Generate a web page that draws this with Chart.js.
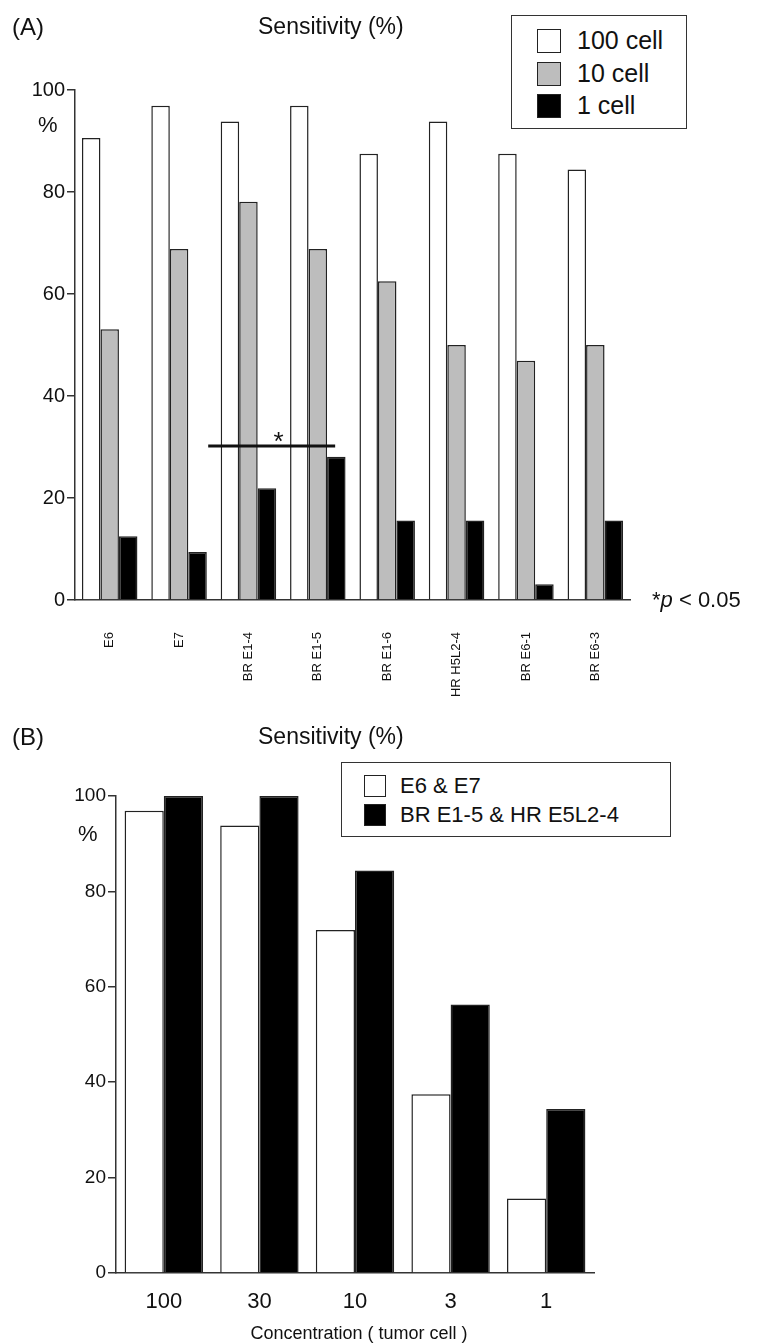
<!DOCTYPE html>
<html><head><meta charset="utf-8">
<script src="https://cdn.jsdelivr.net/npm/chart.js@4/dist/chart.umd.min.js"></script>
<style>
body{margin:0;background:#fff;font-family:"Liberation Sans",Arial,sans-serif;color:#111;}
#wrap{position:relative;width:759px;height:1343px;overflow:hidden;}
canvas{position:absolute;left:0;}
.t{position:absolute;white-space:nowrap;line-height:1;}
.leg{position:absolute;border:1.5px solid #333;background:#fff;box-sizing:border-box;}
.leg div{position:absolute;display:flex;align-items:center;line-height:1;}
.sw{display:inline-block;border:1.5px solid #222;box-sizing:border-box;}
</style></head>
<body><div id="wrap">
<canvas id="ca" width="759" height="700" style="top:0"></canvas>
<canvas id="cb" width="759" height="663" style="top:680px"></canvas>
<div class="t" style="left:12px;top:15px;font-size:24px">(A)</div>
<div class="t" style="left:258px;top:15px;font-size:23px">Sensitivity (%)</div>
<div class="t" style="left:38px;top:114px;font-size:22px">%</div>
<div class="t" style="left:652px;top:589px;font-size:22px">*<i>p</i> &lt; 0.05</div>
<div class="leg" style="left:511px;top:15px;width:176px;height:114px;font-size:25px;">
  <div style="left:25px;top:12px"><span class="sw" style="width:24px;height:24px;background:#fff;margin-right:16px"></span>100 cell</div>
  <div style="left:25px;top:45px"><span class="sw" style="width:24px;height:24px;background:#bdbdbd;margin-right:16px"></span>10 cell</div>
  <div style="left:25px;top:77px"><span class="sw" style="width:24px;height:24px;background:#000;margin-right:16px"></span>1 cell</div>
</div>
<div class="t" style="left:12px;top:725px;font-size:24px">(B)</div>
<div class="t" style="left:258px;top:725px;font-size:23px">Sensitivity (%)</div>
<div class="t" style="left:78px;top:823px;font-size:22px">%</div>
<div class="leg" style="left:341px;top:762px;width:330px;height:75px;font-size:22px;">
  <div style="left:22px;top:12px"><span class="sw" style="width:22px;height:22px;background:#fff;margin-right:14px"></span>E6 &amp; E7</div>
  <div style="left:22px;top:41px"><span class="sw" style="width:22px;height:22px;background:#000;margin-right:14px"></span>BR E1-5 &amp; HR E5L2-4</div>
</div>
<div class="t" style="left:0;width:718px;text-align:center;top:1324px;font-size:18px">Concentration ( tumor cell )</div>
</div>
<script>
// Panel A
const probes = ["E6", "E7", "BR E1-4", "BR E1-5", "BR E1-6", "HR H5L2-4", "BR E6-1", "BR E6-3"];
const cell100 = [90.6, 96.9, 93.8, 96.9, 87.5, 93.8, 87.5, 84.4];
const cell10  = [53.1, 68.8, 78.1, 68.8, 62.5, 50.0, 46.9, 50.0];
const cell1   = [12.5, 9.4, 21.9, 28.1, 15.6, 15.6, 3.1, 15.6];
const yTicks  = [0, 20, 40, 60, 80, 100];

// Panel B
const concs = ["100", "30", "10", "3", "1"];
const e6e7  = [96.9, 93.8, 71.9, 37.5, 15.6];
const brhr  = [100, 100, 84.4, 56.3, 34.4];

// significance bar between BR E1-4 and BR E1-5
const sigBar = { from: 2, to: 3, y: 30.2 };

function yScale(axisW, fontSize) {
  return {
    min: 0, max: 100,
    afterBuildTicks: (s) => { s.ticks = yTicks.map((v) => ({ value: v })); },
    afterFit: (s) => { s.width = axisW; },
    ticks: { color: "#111", font: { size: fontSize, family: "Liberation Sans" }, padding: 2 },
    grid: { drawOnChartArea: false, tickLength: 8, lineWidth: 1.5, color: "#333" },
    border: { color: "#333", width: 1.5 },
  };
}

const bar = (data, fill, cat) => ({
  data, backgroundColor: fill, borderColor: "#222", borderWidth: 1.5,
  barPercentage: 1, categoryPercentage: cat,
});

const sigPlugin = {
  id: "sig",
  afterDatasetsDraw(chart) {
    const { ctx, scales: { x, y } } = chart;
    const step = x.getPixelForValue(1) - x.getPixelForValue(0);
    const x0 = x.getPixelForValue(sigBar.from) - step * 0.58;
    const x1 = x.getPixelForValue(sigBar.to) + step * 0.25;
    const py = y.getPixelForValue(sigBar.y);
    ctx.save();
    ctx.strokeStyle = "#111"; ctx.lineWidth = 3;
    ctx.beginPath(); ctx.moveTo(x0, py); ctx.lineTo(x1, py); ctx.stroke();
    ctx.fillStyle = "#111"; ctx.font = "26px Liberation Sans"; ctx.textAlign = "center";
    ctx.fillText("*", (x0 + x1) / 2 + 7, py + 4);
    ctx.restore();
  },
};

new Chart(document.getElementById("ca"), {
  type: "bar",
  data: { labels: probes, datasets: [bar(cell100, "#fff", 0.8), bar(cell10, "#bdbdbd", 0.8), bar(cell1, "#000", 0.8)] },
  options: {
    responsive: false, animation: false,
    layout: { padding: { top: 90, right: 129, left: 0, bottom: 0 } },
    plugins: { legend: { display: false }, tooltip: { enabled: false } },
    scales: {
      x: {
        afterFit: (s) => { s.height = 100; },
        ticks: { color: "#111", font: { size: 13, family: "Liberation Sans" }, minRotation: 90, maxRotation: 90, padding: 24 },
        grid: { display: false },
        border: { color: "#333", width: 1.5 },
      },
      y: yScale(75, 20),
    },
  },
  plugins: [sigPlugin],
});

new Chart(document.getElementById("cb"), {
  type: "bar",
  data: { labels: concs, datasets: [bar(e6e7, "#fff", 0.82), bar(brhr, "#000", 0.82)] },
  options: {
    responsive: false, animation: false,
    layout: { padding: { top: 116, right: 165, left: 0, bottom: 0 } },
    plugins: { legend: { display: false }, tooltip: { enabled: false } },
    scales: {
      x: {
        afterFit: (s) => { s.height = 70; },
        ticks: { color: "#111", font: { size: 22, family: "Liberation Sans" }, padding: 8 },
        grid: { display: false },
        border: { color: "#333", width: 1.5 },
      },
      y: yScale(116, 19),
    },
  },
});
</script>
</body></html>
